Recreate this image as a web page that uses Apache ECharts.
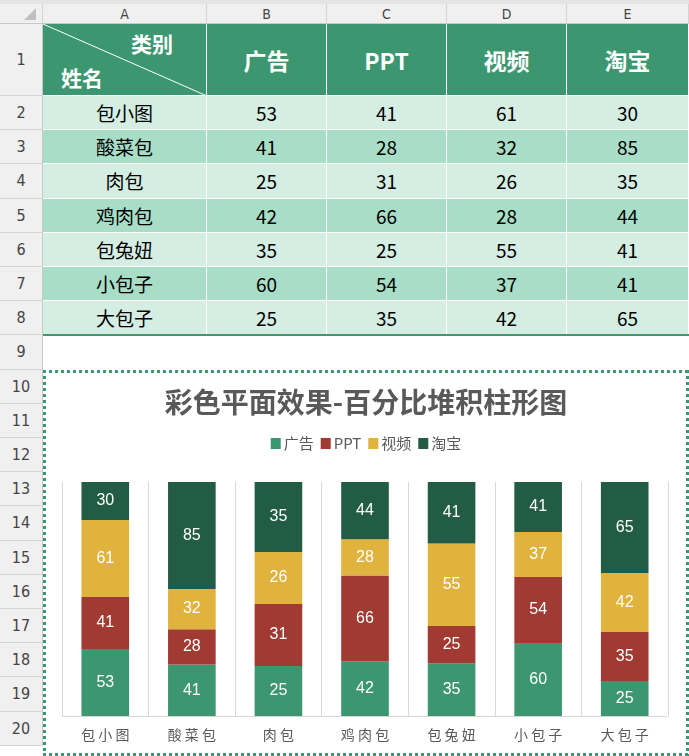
<!DOCTYPE html>
<html><head><meta charset="utf-8">
<script src="https://cdn.jsdelivr.net/npm/echarts@6/dist/echarts.min.js"></script>
<style>
html,body{margin:0;padding:0;background:#fff;width:689px;height:756px;overflow:hidden;font-family:"Noto Sans CJK SC","Noto Sans",sans-serif;}
.abs{position:absolute;box-sizing:border-box;}
.colh{background:#f0f0f0;color:#444;font-size:14px;text-align:center;line-height:20px;border-right:1px solid #d4d4d4;border-bottom:1px solid #c8c8c8;font-family:"Liberation Sans Narrow","DejaVu Sans Condensed",sans-serif;}
.rowh{background:#f0f0f0;color:#444;font-size:16px;text-align:center;border-bottom:1px solid #d4d4d4;border-right:1px solid #c8c8c8;display:flex;align-items:center;justify-content:center;font-family:"Liberation Sans Narrow","DejaVu Sans Condensed",sans-serif;}
.cell{display:flex;align-items:center;justify-content:center;border-right:1px solid #fff;border-bottom:1px solid #fff;color:#000;font-size:19px;}
.hd{background:#3c9670;color:#fff;font-weight:bold;font-size:23px;}
#chartWrap{left:43px;top:370px;width:646px;height:386px;
background:
repeating-linear-gradient(90deg,#3c9670 0 3px,transparent 3px 6px) top left/100% 3px no-repeat,
repeating-linear-gradient(90deg,#3c9670 0 3px,transparent 3px 6px) bottom left/100% 3px no-repeat,
repeating-linear-gradient(180deg,#3c9670 0 3px,transparent 3px 6px) top left/3px 100% no-repeat,
repeating-linear-gradient(180deg,#3c9670 0 3px,transparent 3px 6px) top right/3px 100% no-repeat,#fff;}
#chart{position:absolute;left:0;top:0;width:646px;height:386px;}
</style></head>
<body>
<div id="sheet"></div>
<div id="chartWrap" class="abs"><div id="chart"></div></div>
<script>
// ---- data ----
const names = ["包小图","酸菜包","肉包","鸡肉包","包兔妞","小包子","大包子"];
const seriesNames = ["广告","PPT","视频","淘宝"];
const adValues = [53,41,25,42,35,60,25];
const pptValues = [41,28,31,66,25,54,35];
const videoValues = [61,32,26,28,55,37,42];
const taobaoValues = [30,85,35,44,41,41,65];
const colLetters = ["A","B","C","D","E"];
const chartTitle = "彩色平面效果-百分比堆积柱形图";

// ---- spreadsheet grid ----
const sheet = document.getElementById('sheet');
const colX = [43,207,327,447,567,689];
function add(cls, x, y, w, h, html, style){
  const d=document.createElement('div');
  d.className='abs '+cls;
  d.style.left=x+'px';d.style.top=y+'px';d.style.width=w+'px';d.style.height=h+'px';
  if(style) d.style.cssText+=style;
  d.innerHTML=html; sheet.appendChild(d); return d;
}
add('colh',0,0,43,24,'<svg width="43" height="24"><polygon points="36,8 36,20 24,20" fill="#c0c0c0"/></svg>','');
add('colh',0,0,689,4,'','background:#e4e4e4;border:none;');
colLetters.forEach((c,i)=>add('colh',colX[i],4,colX[i+1]-colX[i],20,c));
const rowTops=[24,96];
for(let r=3;r<=21;r++) rowTops.push(96+(r-2)*34.2);
for(let r=1;r<=20;r++){
  const y=rowTops[r-1], h=rowTops[r]-y;
  add('rowh',0,y,43,h,String(r));
}
add('cell hd',43,24,164,72,
 '<svg class="abs" style="left:0;top:0" width="164" height="72"><line x1="0" y1="0" x2="164" y2="72" stroke="#fff" stroke-width="1"/></svg>'+
 '<span class="abs" style="left:88px;top:4px;font-size:21px;">类别</span>'+
 '<span class="abs" style="left:18px;top:38px;font-size:21px;">姓名</span>','');
seriesNames.forEach((s,i)=>add('cell hd',colX[i+1],24,colX[i+2]-colX[i+1],72,s));
const cols=[adValues,pptValues,videoValues,taobaoValues];
names.forEach((n,ri)=>{
  const y=rowTops[ri+1], h=rowTops[ri+2]-y;
  const bg = ri%2===0 ? '#d4eee3' : '#a8dec7';
  add('cell',43,y,164,h,n,'background:'+bg);
  cols.forEach((arr,ci)=>add('cell',colX[ci+1],y,colX[ci+2]-colX[ci+1],h,String(arr[ri]),'background:'+bg));
});
add('cell',43,rowTops[8]-1,646,2,'','background:#3c9670;border:none');

// ---- chart ----
const totals = names.map((_,i)=>cols.reduce((s,a)=>s+a[i],0));
const colors=['#3c9670','#a03a32','#e0b23e','#235c44'];
const chart = echarts.init(document.getElementById('chart'));
chart.setOption({
  animation:false,
  title:{text:chartTitle,left:'center',top:13,textStyle:{fontSize:28,fontWeight:'bold',color:'#595959',fontFamily:'Noto Sans CJK SC'}},
  legend:{data:seriesNames,top:61,left:'center',itemWidth:10,itemHeight:11,itemGap:7,icon:'rect',
    textStyle:{fontSize:15,color:'#595959',fontFamily:'Noto Sans CJK SC',padding:[0,0,0,-2]}},
  grid:{left:19,right:21,top:112,bottom:40},
  xAxis:{type:'category',data:names.map(n=>n.split('').join(' ')),
    axisLine:{lineStyle:{color:'#d9d9d9',width:1}},axisTick:{show:false},
    splitLine:{show:true,lineStyle:{color:'#d9d9d9'}},
    axisLabel:{color:'#595959',fontSize:14,margin:12,fontFamily:'Noto Sans CJK SC'}},
  yAxis:{type:'value',min:0,max:100,show:false},
  series:cols.map((arr,si)=>({
    name:seriesNames[si],type:'bar',stack:'total',barWidth:'55%',
    itemStyle:{color:colors[si]},
    label:{show:true,color:'#fff',fontSize:16,fontFamily:'Liberation Sans',formatter:p=>arr[p.dataIndex]},
    data:arr.map((v,i)=>v/totals[i]*100)
  }))
});
</script>
</body></html>
